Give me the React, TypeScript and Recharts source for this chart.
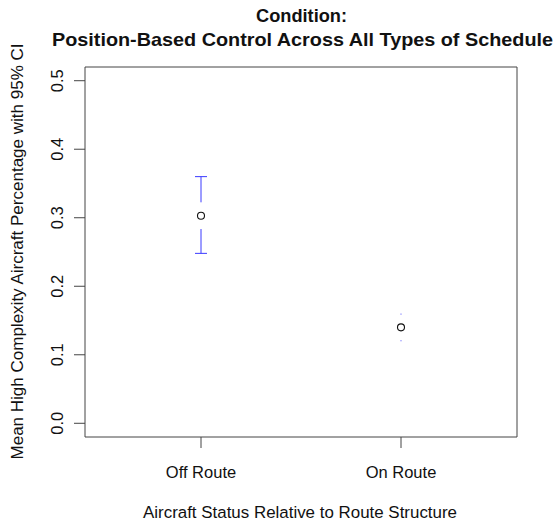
import {
  ComposedChart,
  Scatter,
  XAxis,
  YAxis,
  ReferenceLine,
  ReferenceArea,
  ReferenceDot,
} from "recharts"

const groups = ["Off Route", "On Route"]
const groupX = [1, 2]
const means = [0.303, 0.14]
const lowerCI = [0.248, 0.126]
const upperCI = [0.36, 0.154]
const yTicks = [0, 0.1, 0.2, 0.3, 0.4, 0.5]

const X_DOMAIN: [number, number] = [0.42, 2.58]
const Y_DOMAIN: [number, number] = [-0.02, 0.52]
// gap around the point where no CI bar is drawn (data units)
const GAP = 0.0195
const CAP = 0.03
const BLUE = "#3a3aff"
const FONT = "'Liberation Sans', Arial, sans-serif"

const points = groups.map((g, i) => ({ name: g, x: groupX[i], y: means[i] }))

function OpenCircle(props: any) {
  const { cx, cy } = props
  if (cx == null || cy == null) return null
  return <circle cx={cx} cy={cy} r={3.5} fill="none" stroke="#111" strokeWidth={1.1} />
}

function XTick(props: any) {
  const { x, y, payload } = props
  const idx = groupX.indexOf(payload.value)
  return (
    <text x={x} y={y + 22} textAnchor="middle" dominantBaseline="central" fontSize={16.5} fontFamily={FONT} fill="#111">
      {idx >= 0 ? groups[idx] : ""}
    </text>
  )
}

function YTick(props: any) {
  const { y, payload } = props
  const cx = 57.5
  return (
    <text
      x={cx}
      y={y}
      transform={`rotate(-90 ${cx} ${y})`}
      textAnchor="middle"
      dominantBaseline="central"
      fontSize={16.5}
      fontFamily={FONT}
      fill="#111"
    >
      {payload.value.toFixed(1)}
    </text>
  )
}

function ciMarks() {
  const out: any[] = []
  groups.forEach((g, i) => {
    const x = groupX[i]
    const top = means[i] + GAP
    const bot = means[i] - GAP
    if (upperCI[i] > top) {
      out.push(
        <ReferenceLine key={g + "u"} segment={[{ x, y: top }, { x, y: upperCI[i] }]} stroke={BLUE} ifOverflow="visible" />,
        <ReferenceLine key={g + "uc"} segment={[{ x: x - CAP, y: upperCI[i] }, { x: x + CAP, y: upperCI[i] }]} stroke={BLUE} ifOverflow="visible" />
      )
    } else {
      out.push(<ReferenceDot key={g + "ud"} x={x} y={top} r={0.6} fill={BLUE} stroke="none" ifOverflow="visible" />)
    }
    if (lowerCI[i] < bot) {
      out.push(
        <ReferenceLine key={g + "l"} segment={[{ x, y: bot }, { x, y: lowerCI[i] }]} stroke={BLUE} ifOverflow="visible" />,
        <ReferenceLine key={g + "lc"} segment={[{ x: x - CAP, y: lowerCI[i] }, { x: x + CAP, y: lowerCI[i] }]} stroke={BLUE} ifOverflow="visible" />
      )
    } else {
      out.push(<ReferenceDot key={g + "ld"} x={x} y={bot} r={0.6} fill={BLUE} stroke="none" ifOverflow="visible" />)
    }
  })
  return out
}

export default function App() {
  return (
    <div style={{ position: "absolute", left: 0, top: 0, width: 558, height: 525, background: "#fff" }}>
      <ComposedChart width={558} height={525} data={points} margin={{ top: 67, right: 41, bottom: 0, left: 0 }}>
        <XAxis
          type="number"
          dataKey="x"
          domain={X_DOMAIN}
          ticks={groupX}
          allowDataOverflow
          height={88}
          axisLine={false}
          tickSize={11}
          tickLine={{ stroke: "#444" }}
          tick={<XTick />}
        />
        <YAxis
          type="number"
          dataKey="y"
          domain={Y_DOMAIN}
          ticks={yTicks}
          allowDataOverflow
          width={85}
          axisLine={false}
          tickSize={11}
          tickLine={{ stroke: "#444" }}
          tick={<YTick />}
        />
        <ReferenceArea x1={X_DOMAIN[0]} x2={X_DOMAIN[1]} y1={Y_DOMAIN[0]} y2={Y_DOMAIN[1]} fill="none" stroke="#444" strokeWidth={1} ifOverflow="visible" />
        {ciMarks()}
        <Scatter dataKey="y" shape={<OpenCircle />} isAnimationActive={false} />
      </ComposedChart>
      <svg width={558} height={525} style={{ position: "absolute", left: 0, top: 0, pointerEvents: "none" }}>
        <g fontFamily={FONT} fill="#111">
          <text x={301.5} y={22} textAnchor="middle" fontSize={18.5} fontWeight="bold" textLength={91} lengthAdjust="spacingAndGlyphs">
            Condition:
          </text>
          <text x={302.5} y={46} textAnchor="middle" fontSize={18.5} fontWeight="bold" textLength={501} lengthAdjust="spacingAndGlyphs">
            Position-Based Control Across All Types of Schedule
          </text>
          <text x={300} y={518} textAnchor="middle" fontSize={16.8} textLength={314} lengthAdjust="spacingAndGlyphs">
            Aircraft Status Relative to Route Structure
          </text>
          <text
            x={17}
            y={251.5}
            transform="rotate(-90 17 251.5)"
            textAnchor="middle"
            dominantBaseline="central"
            fontSize={16.5}
            textLength={416}
            lengthAdjust="spacingAndGlyphs"
          >
            Mean High Complexity Aircraft Percentage with 95% CI
          </text>
        </g>
      </svg>
    </div>
  )
}
